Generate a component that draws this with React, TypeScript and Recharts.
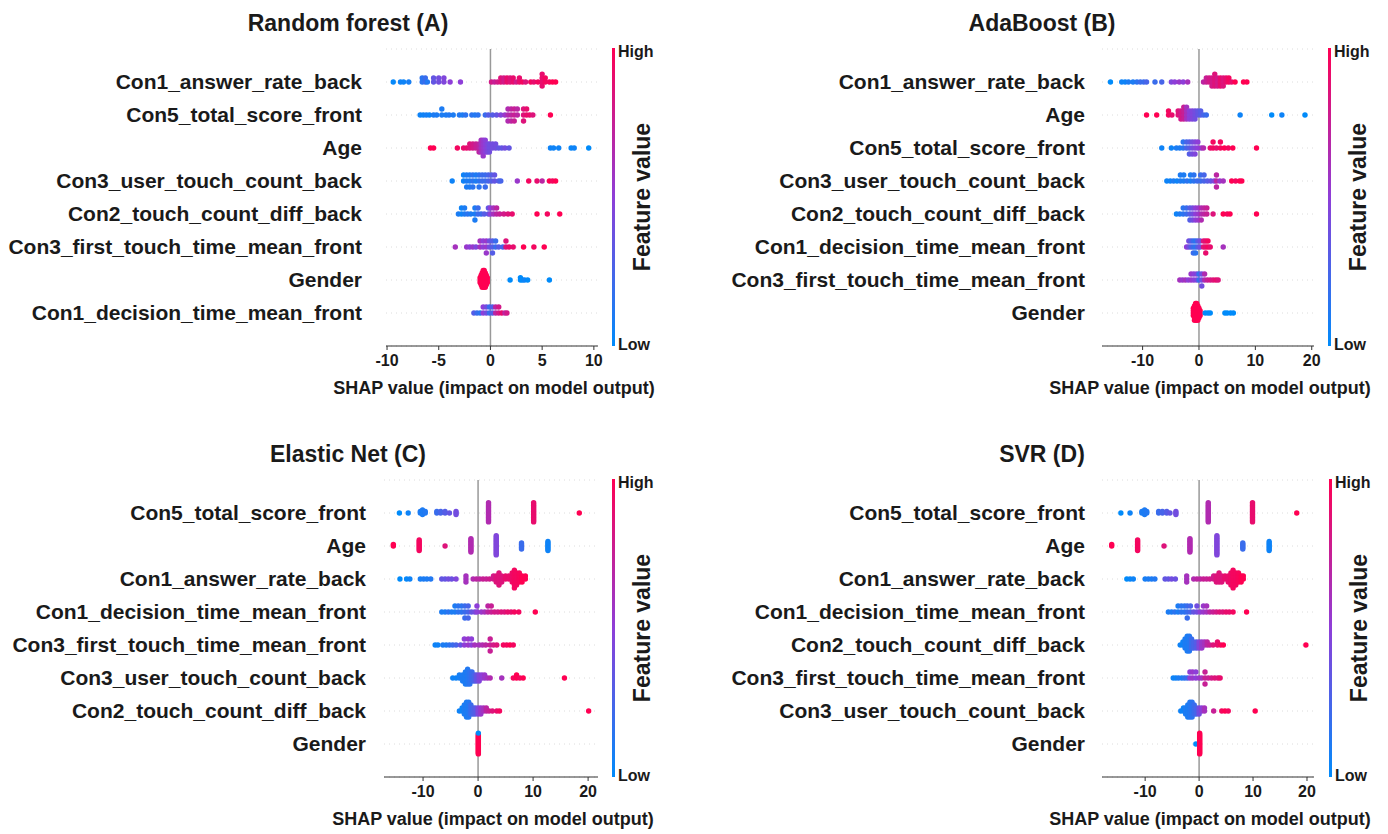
import React from "react";
import { ScatterChart, Scatter, XAxis, YAxis, CartesianGrid } from "recharts";

// each group: [shap value, feature value (0 = low, 1 = high), number of samples]
type Group = [number, number, number];

const rfFeatures = [
  "Con1_answer_rate_back",
  "Con5_total_score_front",
  "Age",
  "Con3_user_touch_count_back",
  "Con2_touch_count_diff_back",
  "Con3_first_touch_time_mean_front",
  "Gender",
  "Con1_decision_time_mean_front",
];
const rfValues: Group[][] = [
  [[-9.4, 0.02, 1], [-8.7, 0.05, 1], [-8.4, 0.05, 1], [-7.9, 0.08, 1], [-6.6, 0.15, 2], [-6.3, 0.2, 2], [-6.1, 0.12, 1], [-5.5, 0.35, 2], [-5.0, 0.4, 2], [-4.5, 0.45, 2], [-3.9, 0.5, 1], [-2.9, 0.5, 1], [0.1, 0.8, 1], [0.4, 0.75, 1], [0.7, 0.8, 1], [1.0, 0.85, 2], [1.3, 0.8, 2], [1.6, 0.9, 2], [1.9, 0.85, 2], [2.2, 0.9, 2], [2.5, 0.8, 1], [2.8, 0.9, 2], [3.1, 0.95, 1], [3.4, 0.85, 1], [3.9, 0.95, 1], [4.2, 0.9, 1], [4.6, 0.95, 1], [5.0, 0.9, 4], [5.3, 0.95, 2], [5.7, 0.95, 1], [6.0, 1, 1], [6.3, 1, 1]],
  [[-6.8, 0.05, 1], [-6.5, 0.05, 1], [-6.2, 0.08, 1], [-5.9, 0.05, 1], [-5.5, 0.1, 1], [-5.2, 0.1, 1], [-4.7, 0.1, 2], [-4.3, 0.1, 1], [-4.0, 0.12, 1], [-3.6, 0.1, 1], [-3.0, 0.12, 1], [-2.7, 0.1, 1], [-2.4, 0.15, 1], [-1.8, 0.15, 1], [-1.5, 0.12, 1], [-1.2, 0.15, 1], [-0.5, 0.2, 1], [-0.2, 0.3, 1], [0.2, 0.3, 1], [0.6, 0.35, 1], [1.0, 0.45, 1], [1.4, 0.55, 1], [1.7, 0.65, 3], [2.0, 0.7, 3], [2.3, 0.75, 3], [2.6, 0.7, 2], [3.2, 0.85, 3], [3.5, 0.9, 2], [3.8, 0.9, 1], [4.1, 0.85, 1], [5.8, 1, 1]],
  [[-5.8, 1, 1], [-5.5, 1, 1], [-3.2, 0.95, 1], [-2.6, 0.9, 1], [-2.3, 0.9, 1], [-2.0, 0.85, 2], [-1.7, 0.8, 2], [-1.4, 0.75, 2], [-1.1, 0.7, 3], [-0.9, 0.6, 4], [-0.7, 0.55, 5], [-0.5, 0.5, 4], [-0.3, 0.45, 3], [-0.1, 0.4, 3], [0.2, 0.4, 2], [0.5, 0.4, 2], [0.8, 0.35, 1], [1.1, 0.35, 1], [1.4, 0.4, 1], [1.8, 0.35, 1], [5.8, 0.05, 1], [6.1, 0.05, 1], [6.6, 0.05, 1], [7.8, 0.03, 1], [8.1, 0.05, 1], [9.5, 0, 1]],
  [[-3.7, 0.05, 1], [-2.6, 0.05, 2], [-2.3, 0.1, 3], [-2.0, 0.1, 3], [-1.7, 0.15, 3], [-1.4, 0.1, 2], [-1.1, 0.15, 3], [-0.8, 0.2, 2], [-0.5, 0.2, 3], [-0.2, 0.25, 2], [0.1, 0.3, 2], [0.4, 0.35, 2], [0.8, 0.3, 1], [1.0, 0.25, 1], [2.6, 0.55, 1], [3.7, 0.95, 1], [4.5, 0.9, 1], [5.0, 0.7, 1], [5.7, 1, 1], [6.0, 0.95, 1], [6.3, 1, 1]],
  [[-3.1, 0.1, 1], [-2.8, 0.05, 2], [-2.5, 0.1, 2], [-2.2, 0.15, 1], [-1.9, 0.1, 1], [-1.5, 0.1, 3], [-1.2, 0.2, 2], [-0.9, 0.2, 1], [-0.6, 0.3, 1], [-0.2, 0.35, 2], [0.0, 0.5, 2], [0.3, 0.6, 2], [0.6, 0.7, 2], [0.9, 0.75, 1], [1.3, 0.8, 1], [1.7, 0.85, 1], [2.1, 0.9, 1], [4.5, 1, 1], [5.5, 0.95, 1], [6.7, 1, 1]],
  [[-3.4, 0.6, 1], [-2.3, 0.55, 1], [-2.0, 0.5, 1], [-1.7, 0.55, 1], [-1.4, 0.45, 1], [-1.0, 0.6, 2], [-0.7, 0.5, 2], [-0.4, 0.55, 3], [-0.1, 0.4, 2], [0.2, 0.3, 3], [0.5, 0.2, 2], [0.8, 0.3, 1], [1.2, 0.25, 1], [1.5, 0.85, 2], [1.8, 0.9, 1], [2.2, 0.9, 1], [3.2, 1, 1], [4.2, 0.95, 1], [5.2, 1, 1]],
  [[-1.0, 1, 3], [-0.9, 1, 5], [-0.8, 1, 7], [-0.7, 1, 8], [-0.6, 1, 8], [-0.5, 1, 7], [-0.4, 1, 5], [-0.3, 1, 3], [1.9, 0, 1], [2.9, 0, 2], [3.1, 0, 1], [3.3, 0.05, 1], [3.6, 0, 1], [5.7, 0, 1]],
  [[-1.6, 0.3, 1], [-1.3, 0.2, 1], [-1.0, 0.15, 1], [-0.7, 0.5, 2], [-0.4, 0.4, 2], [-0.1, 0.2, 2], [0.2, 0.3, 2], [0.5, 0.7, 2], [0.8, 0.8, 2], [1.1, 0.9, 1], [1.4, 0.7, 1], [1.6, 0.8, 1]],
];

const adaFeatures = [
  "Con1_answer_rate_back",
  "Age",
  "Con5_total_score_front",
  "Con3_user_touch_count_back",
  "Con2_touch_count_diff_back",
  "Con1_decision_time_mean_front",
  "Con3_first_touch_time_mean_front",
  "Gender",
];
const adaValues: Group[][] = [
  [[-15.7, 0, 1], [-13.7, 0.05, 1], [-13.1, 0.05, 1], [-12.5, 0.1, 1], [-11.7, 0.1, 1], [-11.0, 0.15, 1], [-10.4, 0.2, 1], [-9.8, 0.2, 1], [-9.3, 0.25, 1], [-7.8, 0.2, 1], [-6.6, 0.25, 1], [-4.9, 0.45, 1], [-4.3, 0.5, 1], [-3.5, 0.55, 1], [-2.8, 0.5, 1], [-2.0, 0.6, 1], [0.8, 0.7, 1], [1.3, 0.75, 2], [1.8, 0.8, 2], [2.3, 0.8, 3], [2.8, 0.85, 4], [3.3, 0.8, 3], [3.8, 0.9, 3], [4.3, 0.85, 3], [4.8, 0.9, 2], [5.3, 0.95, 2], [5.8, 0.9, 1], [6.4, 1, 1], [7.9, 1, 1], [8.5, 1, 1]],
  [[-9.3, 1, 1], [-7.5, 1, 1], [-5.4, 0.95, 2], [-4.8, 0.9, 1], [-3.7, 0.85, 2], [-3.2, 0.8, 3], [-2.7, 0.75, 4], [-2.2, 0.6, 4], [-1.7, 0.5, 3], [-1.2, 0.45, 3], [-0.7, 0.4, 3], [-0.2, 0.35, 2], [0.3, 0.3, 2], [0.8, 0.25, 1], [1.3, 0.2, 1], [7.3, 0.05, 1], [12.9, 0, 1], [14.7, 0.05, 1], [18.8, 0, 1]],
  [[-6.6, 0.05, 1], [-4.9, 0.05, 1], [-4.0, 0.1, 1], [-3.4, 0.1, 1], [-2.8, 0.15, 2], [-2.2, 0.25, 2], [-1.7, 0.3, 3], [-1.2, 0.4, 3], [-0.7, 0.45, 3], [-0.2, 0.5, 2], [0.4, 0.55, 1], [0.8, 0.65, 1], [2.0, 0.9, 1], [2.5, 0.95, 2], [3.1, 0.9, 1], [3.8, 0.95, 2], [4.5, 1, 1], [5.2, 0.95, 1], [6.0, 1, 1], [10.2, 1, 1]],
  [[-5.7, 0.05, 1], [-5.1, 0.05, 1], [-4.5, 0.1, 1], [-3.9, 0.05, 1], [-3.3, 0.1, 2], [-2.7, 0.1, 2], [-2.1, 0.15, 1], [-1.5, 0.1, 2], [-0.9, 0.15, 2], [-0.3, 0.2, 1], [0.3, 0.2, 2], [0.9, 0.25, 2], [1.5, 0.3, 1], [2.1, 0.35, 1], [2.7, 0.45, 1], [3.1, 0.7, 3], [3.7, 0.55, 1], [4.3, 0.6, 1], [5.8, 1, 1], [6.5, 0.95, 1], [7.2, 1, 1], [7.6, 1, 1]],
  [[-4.0, 0.05, 1], [-3.4, 0.1, 1], [-2.8, 0.15, 2], [-2.2, 0.2, 2], [-1.6, 0.3, 3], [-1.1, 0.4, 3], [-0.6, 0.5, 3], [-0.1, 0.55, 3], [0.4, 0.65, 3], [0.9, 0.7, 2], [1.4, 0.75, 2], [2.5, 0.85, 1], [4.3, 1, 1], [5.0, 0.95, 1], [5.5, 1, 1], [10.2, 1, 1]],
  [[-2.2, 0.5, 1], [-1.8, 0.4, 2], [-1.4, 0.3, 2], [-1.0, 0.2, 3], [-0.6, 0.15, 3], [-0.2, 0.3, 2], [0.2, 0.4, 2], [0.8, 0.85, 2], [1.2, 0.9, 3], [1.6, 0.95, 2], [2.0, 0.9, 1], [4.3, 0.6, 1]],
  [[-3.4, 0.6, 1], [-2.9, 0.55, 1], [-2.4, 0.6, 1], [-1.9, 0.5, 1], [-1.4, 0.55, 2], [-0.9, 0.5, 2], [-0.4, 0.45, 2], [0.0, 0.2, 2], [0.5, 0.4, 3], [1.0, 0.65, 2], [1.5, 0.75, 1], [2.0, 0.8, 1], [2.5, 0.85, 1], [3.0, 0.9, 1], [3.4, 0.85, 1]],
  [[-1.0, 1, 4], [-0.8, 1, 7], [-0.6, 1, 8], [-0.4, 1, 8], [-0.2, 1, 7], [0.0, 1, 5], [0.2, 1, 3], [1.1, 0, 1], [1.6, 0, 1], [2.0, 0, 1], [4.6, 0, 1], [5.0, 0, 1], [5.6, 0, 1], [6.1, 0, 1]],
];

const enetFeatures = [
  "Con5_total_score_front",
  "Age",
  "Con1_answer_rate_back",
  "Con1_decision_time_mean_front",
  "Con3_first_touch_time_mean_front",
  "Con3_user_touch_count_back",
  "Con2_touch_count_diff_back",
  "Gender",
];
const enetValues: Group[][] = [
  [[-14.3, 0, 1], [-12.7, 0.05, 1], [-10.5, 0.1, 2], [-10.1, 0.1, 4], [-9.6, 0.12, 2], [-7.5, 0.2, 2], [-6.8, 0.25, 2], [-6.0, 0.3, 2], [-5.2, 0.35, 1], [-4.0, 0.4, 3], [1.9, 0.65, 14], [10.1, 0.9, 14], [18.4, 1, 1]],
  [[-15.4, 1, 2], [-10.7, 0.95, 8], [-6.0, 0.85, 1], [-1.3, 0.65, 10], [3.3, 0.45, 14], [7.9, 0.2, 5], [12.7, 0.05, 7]],
  [[-14.2, 0, 1], [-13.0, 0.02, 1], [-12.4, 0.05, 1], [-10.5, 0.08, 1], [-9.9, 0.1, 1], [-9.3, 0.1, 1], [-8.6, 0.12, 1], [-6.6, 0.35, 1], [-6.0, 0.35, 1], [-5.4, 0.4, 1], [-4.8, 0.38, 1], [-4.0, 0.45, 1], [-2.2, 0.6, 3], [-0.9, 0.65, 1], [-0.3, 0.7, 1], [0.3, 0.7, 1], [0.9, 0.75, 1], [1.5, 0.75, 1], [2.1, 0.78, 1], [2.8, 0.8, 2], [3.3, 0.85, 3], [3.8, 0.85, 5], [4.3, 0.85, 3], [5.0, 0.9, 2], [5.6, 0.9, 2], [6.2, 0.92, 4], [6.6, 0.95, 7], [7.0, 0.95, 5], [7.5, 0.97, 4], [8.0, 1, 3], [8.6, 1, 2]],
  [[-6.6, 0.1, 1], [-6.0, 0.1, 1], [-5.4, 0.15, 1], [-4.8, 0.1, 1], [-4.2, 0.1, 2], [-3.6, 0.15, 2], [-3.0, 0.15, 2], [-2.4, 0.2, 3], [-1.8, 0.25, 3], [-1.2, 0.35, 1], [-0.6, 0.4, 1], [-0.2, 0.5, 2], [0.6, 0.55, 1], [1.2, 0.6, 1], [1.8, 0.7, 2], [2.4, 0.75, 2], [3.0, 0.8, 1], [3.6, 0.8, 1], [4.2, 0.85, 1], [4.8, 0.85, 1], [5.4, 0.9, 1], [6.0, 0.9, 1], [6.6, 0.95, 1], [7.4, 0.95, 1], [10.4, 1, 1]],
  [[-7.8, 0.05, 1], [-7.3, 0.05, 1], [-6.4, 0.1, 1], [-5.8, 0.1, 1], [-5.2, 0.15, 1], [-4.6, 0.2, 1], [-4.0, 0.25, 1], [-3.2, 0.35, 1], [-2.5, 0.5, 2], [-1.8, 0.55, 2], [-1.2, 0.5, 2], [-0.6, 0.6, 1], [0.2, 0.6, 1], [0.8, 0.65, 1], [1.4, 0.7, 1], [2.2, 0.75, 3], [2.8, 0.8, 1], [3.4, 0.85, 1], [4.6, 0.95, 1], [5.2, 0.95, 1], [5.8, 1, 1], [6.4, 0.95, 1]],
  [[-4.6, 0.05, 1], [-4.0, 0.05, 1], [-3.4, 0.08, 2], [-2.8, 0.1, 3], [-2.3, 0.1, 5], [-1.9, 0.12, 6], [-1.5, 0.15, 5], [-1.1, 0.2, 4], [-0.7, 0.25, 3], [-0.3, 0.35, 3], [0.2, 0.45, 3], [0.7, 0.5, 2], [1.2, 0.55, 2], [1.7, 0.6, 1], [2.2, 0.65, 1], [4.3, 0.6, 1], [6.4, 0.95, 1], [7.0, 1, 2], [7.6, 0.95, 1], [8.2, 1, 1], [15.7, 1, 1]],
  [[-3.4, 0.05, 1], [-2.9, 0.05, 2], [-2.5, 0.1, 4], [-2.1, 0.1, 6], [-1.7, 0.12, 6], [-1.3, 0.2, 4], [-0.9, 0.25, 3], [-0.5, 0.3, 3], [0.0, 0.45, 3], [0.5, 0.55, 3], [1.0, 0.6, 2], [1.5, 0.7, 2], [2.0, 0.75, 1], [2.6, 0.85, 1], [3.4, 0.9, 1], [3.9, 0.95, 1], [20.1, 1, 1]],
  [[0.05, 1, 21], [0.05, 0, 1]],
];

const svrFeatures = [
  "Con5_total_score_front",
  "Age",
  "Con1_answer_rate_back",
  "Con1_decision_time_mean_front",
  "Con2_touch_count_diff_back",
  "Con3_first_touch_time_mean_front",
  "Con3_user_touch_count_back",
  "Gender",
];
const svrValues: Group[][] = [
  [[-14.5, 0, 1], [-12.8, 0.05, 1], [-10.6, 0.1, 2], [-10.1, 0.1, 4], [-9.7, 0.12, 2], [-7.5, 0.2, 2], [-6.8, 0.25, 2], [-6.0, 0.3, 2], [-5.4, 0.35, 1], [-4.3, 0.4, 3], [1.7, 0.65, 14], [9.9, 0.9, 14], [18.1, 1, 1]],
  [[-16.2, 1, 2], [-11.4, 0.95, 8], [-6.5, 0.85, 1], [-1.7, 0.65, 10], [3.3, 0.45, 14], [8.1, 0.2, 5], [13.0, 0.05, 7]],
  [[-13.4, 0, 1], [-12.8, 0.03, 1], [-12.2, 0.05, 1], [-10.0, 0.08, 1], [-9.4, 0.1, 1], [-8.8, 0.1, 1], [-8.2, 0.12, 1], [-6.3, 0.35, 1], [-5.7, 0.35, 1], [-5.1, 0.4, 1], [-4.4, 0.38, 1], [-2.3, 0.6, 3], [-1.0, 0.65, 1], [-0.4, 0.7, 1], [0.2, 0.7, 1], [0.8, 0.75, 1], [1.4, 0.75, 1], [2.0, 0.78, 1], [2.7, 0.8, 2], [3.2, 0.85, 3], [3.7, 0.85, 4], [4.2, 0.85, 3], [4.8, 0.9, 2], [5.4, 0.9, 3], [5.9, 0.92, 5], [6.3, 0.95, 7], [6.8, 0.95, 5], [7.3, 0.97, 4], [7.8, 1, 3], [8.2, 1, 2]],
  [[-5.7, 0.1, 1], [-5.1, 0.1, 1], [-4.5, 0.15, 1], [-3.9, 0.1, 2], [-3.3, 0.15, 2], [-2.7, 0.15, 2], [-2.2, 0.2, 3], [-1.6, 0.25, 2], [-1.0, 0.35, 1], [-0.4, 0.4, 2], [0.2, 0.5, 1], [0.8, 0.55, 2], [1.4, 0.6, 2], [2.0, 0.7, 1], [2.6, 0.75, 1], [3.2, 0.8, 1], [3.8, 0.85, 1], [4.4, 0.85, 1], [5.0, 0.9, 1], [5.6, 0.9, 1], [6.3, 0.95, 1], [8.8, 1, 1]],
  [[-3.5, 0.05, 1], [-3.0, 0.05, 2], [-2.6, 0.1, 4], [-2.2, 0.1, 6], [-1.8, 0.12, 6], [-1.4, 0.2, 4], [-1.0, 0.25, 3], [-0.5, 0.3, 3], [0.0, 0.45, 3], [0.5, 0.55, 3], [1.0, 0.6, 2], [1.5, 0.7, 2], [2.0, 0.75, 1], [2.6, 0.85, 1], [3.4, 0.9, 2], [4.0, 0.95, 1], [4.5, 1, 1], [19.8, 1, 1]],
  [[-4.8, 0.05, 1], [-4.3, 0.05, 1], [-3.8, 0.1, 1], [-3.2, 0.1, 1], [-2.7, 0.15, 1], [-2.2, 0.2, 1], [-1.7, 0.5, 2], [-1.2, 0.55, 2], [-0.6, 0.5, 2], [0.0, 0.55, 1], [0.5, 0.6, 1], [1.1, 0.75, 3], [1.7, 0.75, 1], [2.3, 0.8, 1], [2.9, 0.85, 1], [3.5, 0.85, 1], [3.9, 0.9, 1]],
  [[-3.4, 0.05, 1], [-2.9, 0.05, 2], [-2.5, 0.1, 3], [-2.1, 0.1, 5], [-1.7, 0.12, 6], [-1.3, 0.15, 6], [-0.9, 0.2, 4], [-0.5, 0.25, 3], [0.0, 0.4, 3], [0.5, 0.5, 2], [1.0, 0.6, 2], [2.7, 0.75, 1], [4.2, 0.95, 1], [4.8, 1, 1], [5.4, 0.95, 1], [10.4, 1, 1]],
  [[-0.6, 0, 1], [0.1, 1, 22]],
];

const titles = ["Random forest (A)", "AdaBoost (B)", "Elastic Net (C)", "SVR (D)"];
const rfTicks = [-10, -5, 0, 5, 10];
const wideTicks = [-10, 0, 10, 20];
const rowTicks = [0, 1, 2, 3, 4, 5, 6, 7];

const colorStops = [
  [0, 139, 250],
  [142, 62, 216],
  [255, 0, 82],
];

const FONT = '"Liberation Sans", Arial, sans-serif';
const INK = "#1a1a1a";

function colorFor(v: number) {
  const t = Math.max(0, Math.min(1, v)) * (colorStops.length - 1);
  const i = Math.min(Math.floor(t), colorStops.length - 2);
  const f = t - i;
  const a = colorStops[i];
  const b = colorStops[i + 1];
  const c = a.map((ch, k) => Math.round(ch + (b[k] - ch) * f));
  return `rgb(${c[0]},${c[1]},${c[2]})`;
}

// shap-style beeswarm: bin each row into 100 bins and stack points in a bin up/down
function beeswarm(rows: Group[][]) {
  const n = rows.length;
  const out: { x: number; y: number; fv: number }[] = [];
  rows.forEach((groups, i) => {
    const pts: [number, number][] = [];
    groups.forEach(([x, fv, c]) => {
      for (let k = 0; k < c; k++) pts.push([x, fv]);
    });
    const xs = pts.map((p) => p[0]);
    const lo = Math.min(...xs);
    const hi = Math.max(...xs);
    const quant = pts.map((p) => Math.round((100 * (p[0] - lo)) / (hi - lo + 1e-8)));
    const order = pts.map((_, k) => k).sort((a, b) => quant[a] - quant[b] || a - b);
    const ys = new Array(pts.length).fill(0);
    let layer = 0;
    let last = -1;
    order.forEach((k) => {
      if (quant[k] !== last) layer = 0;
      ys[k] = Math.ceil(layer / 2) * ((layer % 2) * 2 - 1);
      layer++;
      last = quant[k];
    });
    const scale = (0.9 * 0.4) / Math.max(...ys.map((v) => v + 1));
    pts.forEach((p, k) => out.push({ x: p[0], y: n - 1 - i + ys[k] * scale, fv: p[1] }));
  });
  return out;
}

const panels = [
  { features: rfFeatures, values: rfValues, ticks: rfTicks, domain: [-10.1, 10.4], left: 0, top: 0, axisWidth: 386, right: 96, gap: 24, bar: 612 },
  { features: adaFeatures, values: adaValues, ticks: wideTicks, domain: [-17.2, 20.4], left: 694, top: 0, axisWidth: 408, right: 74, gap: 17, bar: 1328 },
  { features: enetFeatures, values: enetValues, ticks: wideTicks, domain: [-17.1, 21.8], left: 0, top: 431, axisWidth: 384, right: 96, gap: 18, bar: 612 },
  { features: svrFeatures, values: svrValues, ticks: wideTicks, domain: [-18, 21.3], left: 694, top: 431, axisWidth: 408, right: 74, gap: 17, bar: 1329 },
];

const CHART_H = 410;
const PLOT_TOP = 49;
const PLOT_H = 297;
const X_AXIS_H = 30;

const Dot = (props: any) => (
  <circle cx={props.cx} cy={props.cy} r={2.7} fill={colorFor(props.payload.fv)} />
);

function Panel({ p, title }: { p: (typeof panels)[number]; title: string }) {
  const data = beeswarm(p.values);
  const plotLeft = p.left + p.axisWidth;
  const plotRight = p.left + 694 - p.right;
  const mid = (plotLeft + plotRight) / 2;
  const barTop = p.top + PLOT_TOP - 1;
  const barBottom = p.top + PLOT_TOP + PLOT_H;
  const text = { position: "absolute" as const, fontFamily: FONT, fontWeight: 700, color: INK, whiteSpace: "nowrap" as const };
  return (
    <>
      <div style={{ position: "absolute", left: p.left, top: p.top }}>
        <ScatterChart
          width={694}
          height={CHART_H}
          margin={{ top: PLOT_TOP, right: p.right, bottom: CHART_H - PLOT_TOP - PLOT_H - X_AXIS_H, left: 0 }}
        >
          <CartesianGrid vertical={false} stroke="#dcdcdc" strokeDasharray="1 4" />
          <CartesianGrid horizontal={false} verticalValues={[0]} stroke="#999" strokeWidth={1.5} />
          <XAxis
            type="number"
            dataKey="x"
            domain={p.domain}
            ticks={p.ticks}
            interval={0}
            height={X_AXIS_H}
            allowDataOverflow
            stroke="#333"
            tickSize={4}
            tickMargin={5}
            tick={{ fontSize: 16, fontWeight: 700, fill: INK }}
          />
          <YAxis
            type="number"
            dataKey="y"
            domain={[-1, 8]}
            ticks={rowTicks}
            interval={0}
            width={p.axisWidth}
            axisLine={false}
            tickLine={false}
            tickSize={0}
            tickMargin={p.gap}
            tickFormatter={(v: number) => p.features[7 - v]}
            tick={{ fontSize: 21, fontWeight: 700, fill: INK }}
          />
          <Scatter data={data} shape={Dot} isAnimationActive={false} />
        </ScatterChart>
      </div>
      <div style={{ ...text, left: p.left + 348, top: p.top + 23, fontSize: 23, transform: "translate(-50%, -50%)" }}>{title}</div>
      <div style={{ ...text, left: mid + 2, top: p.top + 388, fontSize: 18, transform: "translate(-50%, -50%)" }}>
        SHAP value (impact on model output)
      </div>
      <div
        style={{
          position: "absolute",
          left: p.bar,
          top: barTop,
          width: 3,
          height: barBottom - barTop,
          background: `linear-gradient(to top, ${colorFor(0)}, ${colorFor(0.5)}, ${colorFor(1)})`,
        }}
      />
      <div style={{ ...text, left: p.bar + 6, top: barTop + 4, fontSize: 16, transform: "translateY(-50%)" }}>High</div>
      <div style={{ ...text, left: p.bar + 6, top: barBottom - 1, fontSize: 16, transform: "translateY(-50%)" }}>Low</div>
      <div
        style={{
          ...text,
          left: p.bar + 30,
          top: (barTop + barBottom) / 2,
          fontSize: 23,
          transform: "translate(-50%, -50%) rotate(-90deg)",
        }}
      >
        Feature value
      </div>
    </>
  );
}

export default function App() {
  return (
    <div style={{ position: "absolute", left: 0, top: 0, width: 1388, height: 834, background: "#fff", fontFamily: FONT }}>
      {panels.map((p, i) => (
        <Panel key={i} p={p} title={titles[i]} />
      ))}
    </div>
  );
}
